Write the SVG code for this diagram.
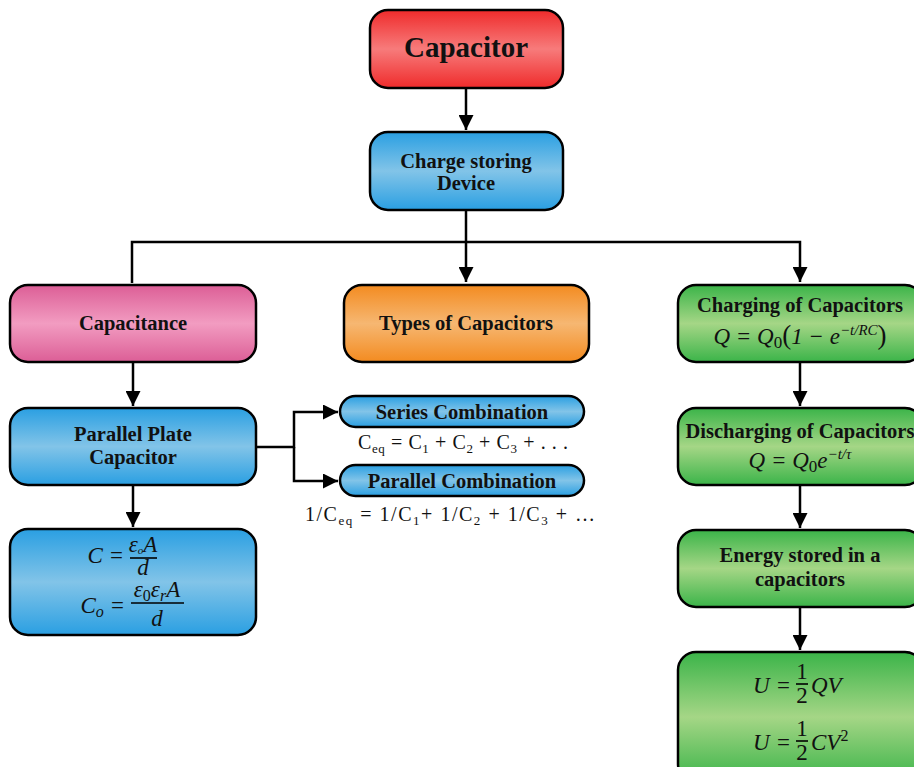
<svg xmlns="http://www.w3.org/2000/svg" width="914" height="767" viewBox="0 0 914 767">
<defs>
<linearGradient id="gRed" x1="0" y1="0" x2="0" y2="1"><stop offset="0" stop-color="#ef2b2b"/><stop offset="0.5" stop-color="#f77b7b"/><stop offset="1" stop-color="#ef2b2b"/></linearGradient>
<linearGradient id="gBlue" x1="0" y1="0" x2="0" y2="1"><stop offset="0" stop-color="#2a9fe2"/><stop offset="0.5" stop-color="#82c4e8"/><stop offset="1" stop-color="#2a9fe2"/></linearGradient>
<linearGradient id="gPink" x1="0" y1="0" x2="0" y2="1"><stop offset="0" stop-color="#dc5e96"/><stop offset="0.5" stop-color="#f29cc1"/><stop offset="1" stop-color="#dc5e96"/></linearGradient>
<linearGradient id="gOrange" x1="0" y1="0" x2="0" y2="1"><stop offset="0" stop-color="#f38b20"/><stop offset="0.5" stop-color="#f6b772"/><stop offset="1" stop-color="#f38b20"/></linearGradient>
<linearGradient id="gGreen" x1="0" y1="0" x2="0" y2="1"><stop offset="0" stop-color="#3bb449"/><stop offset="0.5" stop-color="#a5d686"/><stop offset="1" stop-color="#3bb449"/></linearGradient>
<marker id="arr" viewBox="0 0 10 10" refX="10" refY="5" markerWidth="6" markerHeight="6" markerUnits="strokeWidth" orient="auto"><path d="M0,0 L10,5 L0,10 z" fill="#000"/></marker>
</defs>
<style>
.box{stroke:#000;stroke-width:2.5}
.t{font-family:"Liberation Serif","Times New Roman",serif;font-weight:bold;font-size:20.5px;fill:#111;text-anchor:middle}
.big{font-size:29px}
.m{font-family:"Liberation Serif","Times New Roman",serif;font-style:italic;font-size:23px;fill:#111;text-anchor:middle}
.me{text-anchor:end}
.ms{text-anchor:start}
.up{font-style:normal}
.r{font-family:"Liberation Serif","Times New Roman",serif;font-size:20px;fill:#111;text-anchor:middle}
.c{fill:none;stroke:#000;stroke-width:2.5}
.bar{stroke:#000;stroke-width:1.6}
</style>
<rect width="914" height="767" fill="#fff"/>
<g id="connectors">
<path class="c" d="M466,88 V130" marker-end="url(#arr)"/>
<path class="c" d="M466,210 V282" marker-end="url(#arr)"/>
<path class="c" d="M132,283 V242 H800 V282" marker-end="url(#arr)"/>
<path class="c" d="M133,362 V406" marker-end="url(#arr)"/>
<path class="c" d="M133,485 V527" marker-end="url(#arr)"/>
<path class="c" d="M256,447 H294 V412 H338" marker-end="url(#arr)"/>
<path class="c" d="M294,447 V481 H338" marker-end="url(#arr)"/>
<path class="c" d="M800,362 V406" marker-end="url(#arr)"/>
<path class="c" d="M800,485 V528" marker-end="url(#arr)"/>
<path class="c" d="M800,607 V650" marker-end="url(#arr)"/>
</g>
<g id="capacitor"><rect class="box" x="370" y="10" width="193" height="78" rx="18" fill="url(#gRed)"/><text class="t big" x="466" y="57">Capacitor</text></g>
<g id="charge-storing"><rect class="box" x="370" y="132" width="193" height="78" rx="18" fill="url(#gBlue)"/><text class="t" x="466" y="168">Charge storing</text><text class="t" x="466" y="190">Device</text></g>
<g id="capacitance"><rect class="box" x="10" y="285" width="246" height="77" rx="18" fill="url(#gPink)"/><text class="t" x="133" y="330">Capacitance</text></g>
<g id="types"><rect class="box" x="344" y="285" width="245" height="77" rx="18" fill="url(#gOrange)"/><text class="t" x="466" y="330">Types of Capacitors</text></g>
<g id="charging"><rect class="box" x="678" y="285" width="245" height="77" rx="18" fill="url(#gGreen)"/><text class="t" x="800" y="312">Charging of Capacitors</text><text class="m" x="800" y="344">Q = Q<tspan class="up" font-size="17" dy="4">0</tspan><tspan class="up" dy="-4" font-size="27">(</tspan>1 − e<tspan font-size="15" dy="-9">−t/RC</tspan><tspan class="up" dy="9" font-size="27">)</tspan></text></g>
<g id="parallel-plate"><rect class="box" x="10" y="408" width="246" height="77" rx="18" fill="url(#gBlue)"/><text class="t" x="133" y="441">Parallel Plate</text><text class="t" x="133" y="464">Capacitor</text></g>
<g id="formula-c"><rect class="box" x="10" y="529" width="246" height="106" rx="18" fill="url(#gBlue)"/>
<text class="m me" x="124" y="563">C =</text>
<text class="m" x="143" y="552" font-size="16">ε<tspan font-size="11" dy="2">o</tspan><tspan dy="-2">A</tspan></text>
<line class="bar" x1="130" y1="558" x2="157" y2="558"/>
<text class="m" x="143" y="575" font-size="16">d</text>
<text class="m me" x="125" y="613">C<tspan font-size="16" dy="4">o</tspan><tspan dy="-4"> =</tspan></text>
<text class="m" x="157" y="597">ε<tspan class="up" font-size="16" dy="4">0</tspan><tspan dy="-4">ε</tspan><tspan font-size="16" dy="4">r</tspan><tspan dy="-4">A</tspan></text>
<line class="bar" x1="131" y1="603" x2="184" y2="603"/>
<text class="m" x="157" y="626">d</text>
</g>
<g id="series"><rect class="box" x="340" y="396" width="244" height="31" rx="15.5" fill="url(#gBlue)"/><text class="t" x="462" y="419">Series Combination</text></g>
<text class="r" x="463" y="449" textLength="210" lengthAdjust="spacing">C<tspan font-size="13" dy="4">eq</tspan><tspan dy="-4"> = C</tspan><tspan font-size="13" dy="4">1</tspan><tspan dy="-4"> + C</tspan><tspan font-size="13" dy="4">2</tspan><tspan dy="-4"> + C</tspan><tspan font-size="13" dy="4">3</tspan><tspan dy="-4"> + . . .</tspan></text>
<g id="parallel-comb"><rect class="box" x="340" y="465" width="244" height="31" rx="15.5" fill="url(#gBlue)"/><text class="t" x="462" y="488">Parallel Combination</text></g>
<text class="r" x="450" y="521" textLength="290" lengthAdjust="spacing">1/C<tspan font-size="13" dy="4">eq</tspan><tspan dy="-4"> = 1/C</tspan><tspan font-size="13" dy="4">1</tspan><tspan dy="-4">+ 1/C</tspan><tspan font-size="13" dy="4">2</tspan><tspan dy="-4"> + 1/C</tspan><tspan font-size="13" dy="4">3</tspan><tspan dy="-4"> + …</tspan></text>
<g id="discharging"><rect class="box" x="678" y="408" width="245" height="77" rx="18" fill="url(#gGreen)"/><text class="t" x="800" y="438">Discharging of Capacitors</text><text class="m" x="800" y="468">Q = Q<tspan class="up" font-size="17" dy="4">0</tspan><tspan dy="-4">e</tspan><tspan font-size="15" dy="-9">−t/τ</tspan></text></g>
<g id="energy"><rect class="box" x="678" y="530" width="245" height="77" rx="18" fill="url(#gGreen)"/><text class="t" x="800" y="562">Energy stored in a</text><text class="t" x="800" y="586">capacitors</text></g>
<g id="energy-formula"><rect class="box" x="678" y="652" width="245" height="130" rx="18" fill="url(#gGreen)"/>
<text class="m me" x="791" y="693">U =</text>
<text class="m up" x="802" y="679" font-size="20">1</text>
<line class="bar" x1="796" y1="684" x2="808" y2="684"/>
<text class="m up" x="802" y="703" font-size="20">2</text>
<text class="m ms" x="811" y="693">QV</text>
<text class="m me" x="791" y="750">U =</text>
<text class="m up" x="802" y="736" font-size="20">1</text>
<line class="bar" x1="796" y1="741" x2="808" y2="741"/>
<text class="m up" x="802" y="760" font-size="20">2</text>
<text class="m ms" x="811" y="750">CV<tspan class="up" font-size="16" dy="-9">2</tspan></text>
</g>
</svg>
